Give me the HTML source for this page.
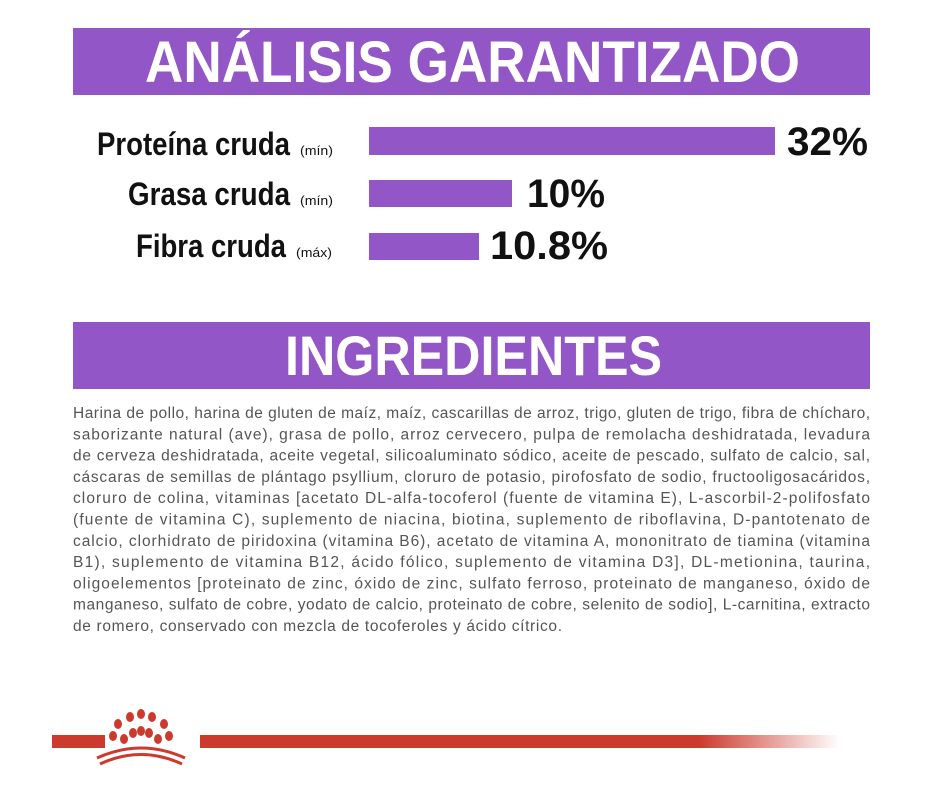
<!DOCTYPE html>
<html><head><meta charset="utf-8"><style>
body{margin:0;background:#fff;width:934px;height:790px;overflow:hidden}
</style></head><body>
<svg width="934" height="790" viewBox="0 0 934 790" xmlns="http://www.w3.org/2000/svg" font-family="Liberation Sans, sans-serif">
<defs>
<linearGradient id="rg" x1="0" x2="1" y1="0" y2="0">
<stop offset="0" stop-color="#cc3a2e"/><stop offset="0.78" stop-color="#cc3a2e"/><stop offset="1" stop-color="#cc3a2e" stop-opacity="0"/>
</linearGradient>
</defs>
<rect x="73" y="28" width="797" height="67" fill="#9356c6"/>
<text x="145" y="82" font-size="58" font-weight="bold" fill="#fff" textLength="655" lengthAdjust="spacingAndGlyphs">ANÁLISIS GARANTIZADO</text>

<rect x="369" y="127" width="406" height="28" fill="#9356c6"/>
<rect x="369" y="180" width="143" height="27" fill="#9356c6"/>
<rect x="369" y="233" width="110" height="27" fill="#9356c6"/>

<g font-weight="bold" fill="#111">
<text x="97" y="155" font-size="32" textLength="193" lengthAdjust="spacingAndGlyphs">Proteína cruda</text>
<text x="128" y="205" font-size="32" textLength="162" lengthAdjust="spacingAndGlyphs">Grasa cruda</text>
<text x="136" y="257" font-size="32" textLength="150" lengthAdjust="spacingAndGlyphs">Fibra cruda</text>
<text x="787" y="155" font-size="40" textLength="81" lengthAdjust="spacingAndGlyphs">32%</text>
<text x="527" y="207" font-size="40" textLength="78" lengthAdjust="spacingAndGlyphs">10%</text>
<text x="490" y="259" font-size="40" textLength="118" lengthAdjust="spacingAndGlyphs">10.8%</text>
</g>
<g fill="#111" font-size="13">
<text x="300" y="155" textLength="33" lengthAdjust="spacingAndGlyphs">(mín)</text>
<text x="300" y="205" textLength="33" lengthAdjust="spacingAndGlyphs">(mín)</text>
<text x="296" y="257" textLength="36" lengthAdjust="spacingAndGlyphs">(máx)</text>
</g>

<rect x="73" y="322" width="797" height="67" fill="#9356c6"/>
<text x="285" y="375" font-size="56" font-weight="bold" fill="#fff" textLength="377" lengthAdjust="spacingAndGlyphs">INGREDIENTES</text>

<g fill="#555" font-size="15.5">
<text x="73" y="418" textLength="797" lengthAdjust="spacing">Harina de pollo, harina de gluten de maíz, maíz, cascarillas de arroz, trigo, gluten de trigo, fibra de chícharo,</text>
<text x="73" y="439.3" textLength="797" lengthAdjust="spacing">saborizante natural (ave), grasa de pollo, arroz cervecero, pulpa de remolacha deshidratada, levadura</text>
<text x="73" y="460.6" textLength="797" lengthAdjust="spacing">de cerveza deshidratada, aceite vegetal, silicoaluminato sódico, aceite de pescado, sulfato de calcio, sal,</text>
<text x="73" y="481.9" textLength="797" lengthAdjust="spacing">cáscaras de semillas de plántago psyllium, cloruro de potasio, pirofosfato de sodio, fructooligosacáridos,</text>
<text x="73" y="503.2" textLength="797" lengthAdjust="spacing">cloruro de colina, vitaminas [acetato DL-alfa-tocoferol (fuente de vitamina E), L-ascorbil-2-polifosfato</text>
<text x="73" y="524.5" textLength="797" lengthAdjust="spacing">(fuente de vitamina C), suplemento de niacina, biotina, suplemento de riboflavina, D-pantotenato de</text>
<text x="73" y="545.8" textLength="797" lengthAdjust="spacing">calcio, clorhidrato de piridoxina (vitamina B6), acetato de vitamina A, mononitrato de tiamina (vitamina</text>
<text x="73" y="567.1" textLength="797" lengthAdjust="spacing">B1), suplemento de vitamina B12, ácido fólico, suplemento de vitamina D3], DL-metionina, taurina,</text>
<text x="73" y="588.4" textLength="797" lengthAdjust="spacing">oligoelementos [proteinato de zinc, óxido de zinc, sulfato ferroso, proteinato de manganeso, óxido de</text>
<text x="73" y="609.7" textLength="797" lengthAdjust="spacing">manganeso, sulfato de cobre, yodato de calcio, proteinato de cobre, selenito de sodio], L-carnitina, extracto</text>
<text x="73" y="631" textLength="489" lengthAdjust="spacing">de romero, conservado con mezcla de tocoferoles y ácido cítrico.</text>
</g>

<rect x="52" y="735" width="53" height="13" fill="#cc3a2e"/>
<rect x="200" y="735" width="640" height="13" fill="url(#rg)"/>
<g fill="#cc3a2e">
<ellipse cx="113" cy="736" rx="4" ry="5"/>
<ellipse cx="118" cy="724" rx="4" ry="5"/>
<ellipse cx="130" cy="717" rx="4" ry="5"/>
<ellipse cx="141" cy="714" rx="4" ry="5"/>
<ellipse cx="152" cy="717" rx="4" ry="5"/>
<ellipse cx="164" cy="724" rx="4" ry="5"/>
<ellipse cx="169" cy="736" rx="4" ry="5"/>
<ellipse cx="124" cy="739" rx="4" ry="5"/>
<ellipse cx="133" cy="733" rx="4" ry="5"/>
<ellipse cx="141" cy="731" rx="4" ry="5"/>
<ellipse cx="149" cy="733" rx="4" ry="5"/>
<ellipse cx="158" cy="739" rx="4" ry="5"/>
</g>
<path d="M97 758 Q141 738 185 758" stroke="#cc3a2e" stroke-width="3" fill="none"/>
<path d="M100 764 Q141 745 182 764" stroke="#cc3a2e" stroke-width="3" fill="none"/>
</svg>
</body></html>
